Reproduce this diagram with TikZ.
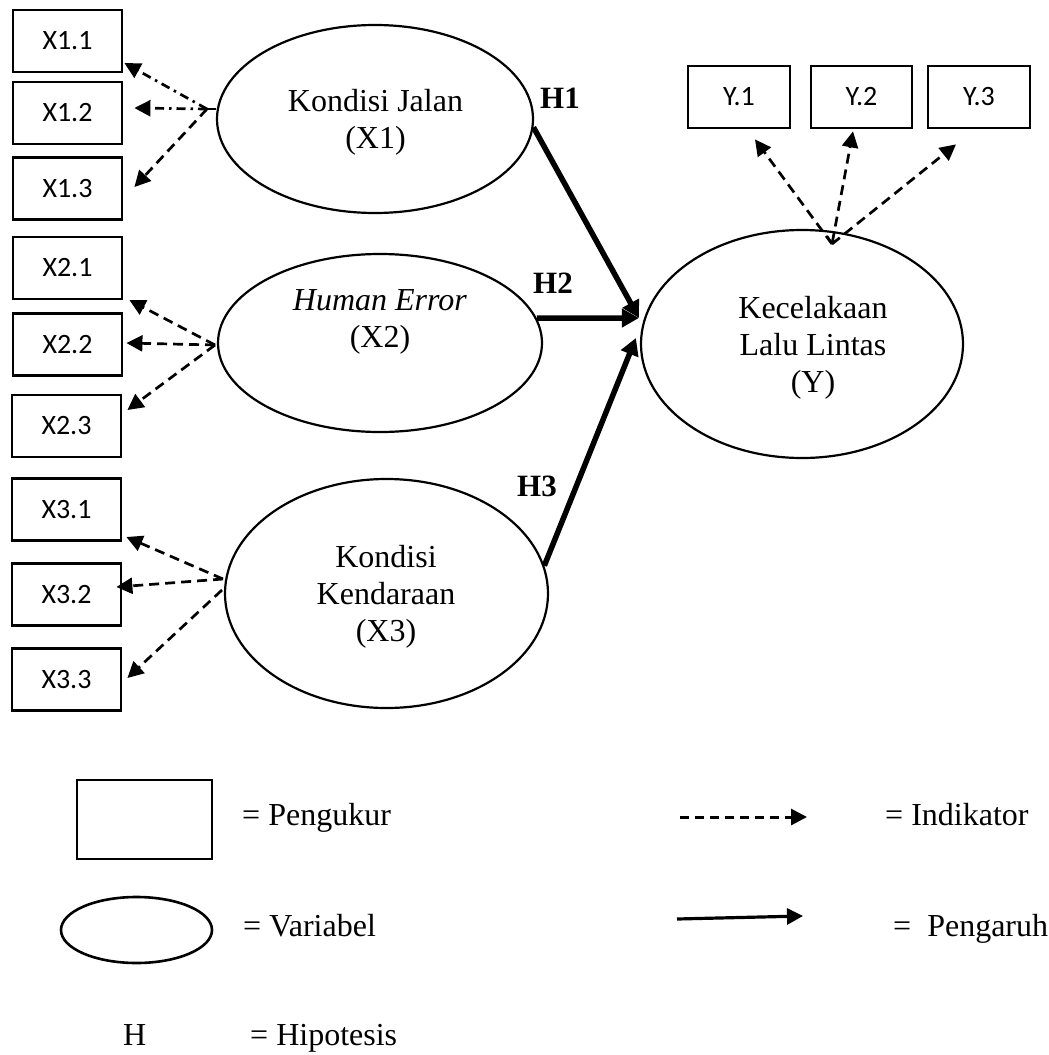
\documentclass[tikz,border=0pt]{standalone}
\usepackage{fontspec}
\setmainfont{Liberation Serif}
\newfontfamily\boxfont{Carlito}
\usetikzlibrary{arrows.meta,calc,shapes.geometric}
\begin{document}
\begin{tikzpicture}[x=1pt,y=-1pt,
 indbox/.style={draw, line width=2.8pt, minimum width=109pt, minimum height=62pt, inner sep=0pt, font=\boxfont\fontsize{28}{34}\selectfont},
 varell/.style={draw, ellipse, line width=2.2pt, inner sep=0pt},
 vartext/.style={align=center, inner sep=0pt, font=\fontsize{32}{37}\selectfont},
 indarrow/.style={line width=2.7pt, dash pattern=on 10pt off 6pt, -{Triangle[length=16pt,width=16pt]}},
 dotarrow/.style={indarrow, dash pattern=on 9pt off 5pt on 2.5pt off 5pt},
 effarrow/.style={line width=5.5pt, -{Triangle[length=17pt,width=18pt]}},
 hlabel/.style={inner sep=0pt, font=\bfseries\fontsize{31}{36}\selectfont},
 legtext/.style={anchor=base west, inner sep=0pt, font=\fontsize{32}{37}\selectfont}]
\useasboundingbox (0,0) rectangle (1049,1055);
% indicator boxes
\node[indbox] (x11) at (67.5,41) {X1.1};
\node[indbox] (x12) at (67.5,113) {X1.2};
\node[indbox] (x13) at (67.5,188.5) {X1.3};
\node[indbox] (x21) at (67.5,268) {X2.1};
\node[indbox] (x22) at (67.5,344.5) {X2.2};
\node[indbox] (x23) at (66.5,426) {X2.3};
\node[indbox] (x31) at (66.5,509.5) {X3.1};
\node[indbox] (x32) at (66.5,594.5) {X3.2};
\node[indbox] (x33) at (66.5,679.5) {X3.3};
\node[indbox, minimum width=102pt] (y1) at (739,97) {Y.1};
\node[indbox, minimum width=101pt] (y2) at (861.5,97) {Y.2};
\node[indbox, minimum width=102pt] (y3) at (979,97) {Y.3};
% variables
\node[varell, minimum width=316pt, minimum height=188pt] (e1) at (375,119) {};
\node[varell, minimum width=324pt, minimum height=178pt] (e2) at (380,343) {};
\node[varell, minimum width=323pt, minimum height=229pt] (e3) at (386.5,593.5) {};
\node[varell, minimum width=322pt, minimum height=228pt] (eY) at (802,344) {};
\node[vartext] (t1) at (375.5,122) {Kondisi Jalan\\(X1)};
\node[vartext] (t2) at (380,322) {\textit{Human Error}\\(X2)};
\node[vartext] (t3) at (386,597) {Kondisi\\Kendaraan\\(X3)};
\node[vartext] (tY) at (813,348) {Kecelakaan\\Lalu Lintas\\(Y)};
% origins
\coordinate (o1) at (207,109);
\coordinate (o2) at (215,345);
\coordinate (o3) at (223,579);
\coordinate (o3b) at (222,590);
\coordinate (oY) at (832,244);
\draw[line width=2.2pt] (o1) -- (e1.west |- o1);
% indicator arrows
\draw[dotarrow] (o1) -- ([shift={(1,22)}]x11.east);
\draw[dotarrow] (o1) -- ([shift={(11,-5)}]x12.east);
\draw[indarrow] (o1) -- ([shift={(11,-1.5)}]x13.east);
\draw[indarrow] (o2) -- ([shift={(6,32)}]x21.east);
\draw[indarrow] (o2) -- ([shift={(3,-1.5)}]x22.east);
\draw[indarrow] (o2) -- ([shift={(5,-16)}]x23.east);
\draw[indarrow] (o3) -- ([shift={(4,27.5)}]x31.east);
\draw[indarrow] (o3) -- ([shift={(-6,-7.5)}]x32.east);
\draw[indarrow] (o3b) -- ([shift={(5,-1.5)}]x33.east);
\draw[indarrow] (oY) -- ([shift={(16,10)}]y1.south);
\draw[indarrow, {Straight Barb[length=6pt,width=12pt,line width=1.5pt]}-{Triangle[length=16pt,width=16pt]}] (oY) -- ([shift={(-8.5,2)}]y2.south);
\draw[indarrow] (oY) -- ([shift={(-23,15)}]y3.south);
% effect arrows
\draw[effarrow] (e1.-3) -- ([shift={(-1,-26)}]eY.west);
\draw[effarrow] (e2.9) -- ([shift={(-1,-26)}]eY.west);
\draw[effarrow] (e3.10) -- ([shift={(-4,-6)}]eY.west);
\node[hlabel] (h1) at (560,98) {H1};
\node[hlabel] (h2) at (553,283) {H2};
\node[hlabel] (h3) at (537,486) {H3};
% legend
\node[indbox, minimum width=135pt, minimum height=79pt] (lbox) at (144.5,819.5) {};
\node[legtext] (lboxt) at (242,825) {= Pengukur};
\node[varell, line width=2.6pt, minimum width=151pt, minimum height=66pt] (lell) at (136.5,930) {};
\node[legtext] (lellt) at (243,936) {= Variabel};
\coordinate (ld1) at (680,817);
\coordinate (ld2) at (807,817);
\draw[indarrow, line width=3pt, dash pattern=on 9pt off 6pt] (ld1) -- (ld2);
\node[legtext] (ldt) at (885,825) {= Indikator};
\coordinate (ls1) at (677,919);
\coordinate (ls2) at (803,916);
\draw[line width=3.2pt, -{Triangle[length=16pt,width=16pt]}] (ls1) -- (ls2);
\node[legtext] (lst) at (893,936) {=\ \ Pengaruh};
\node[legtext] (lh) at (123,1045) {H};
\node[legtext] (lht) at (250,1045) {= Hipotesis};
\end{tikzpicture}
\end{document}
